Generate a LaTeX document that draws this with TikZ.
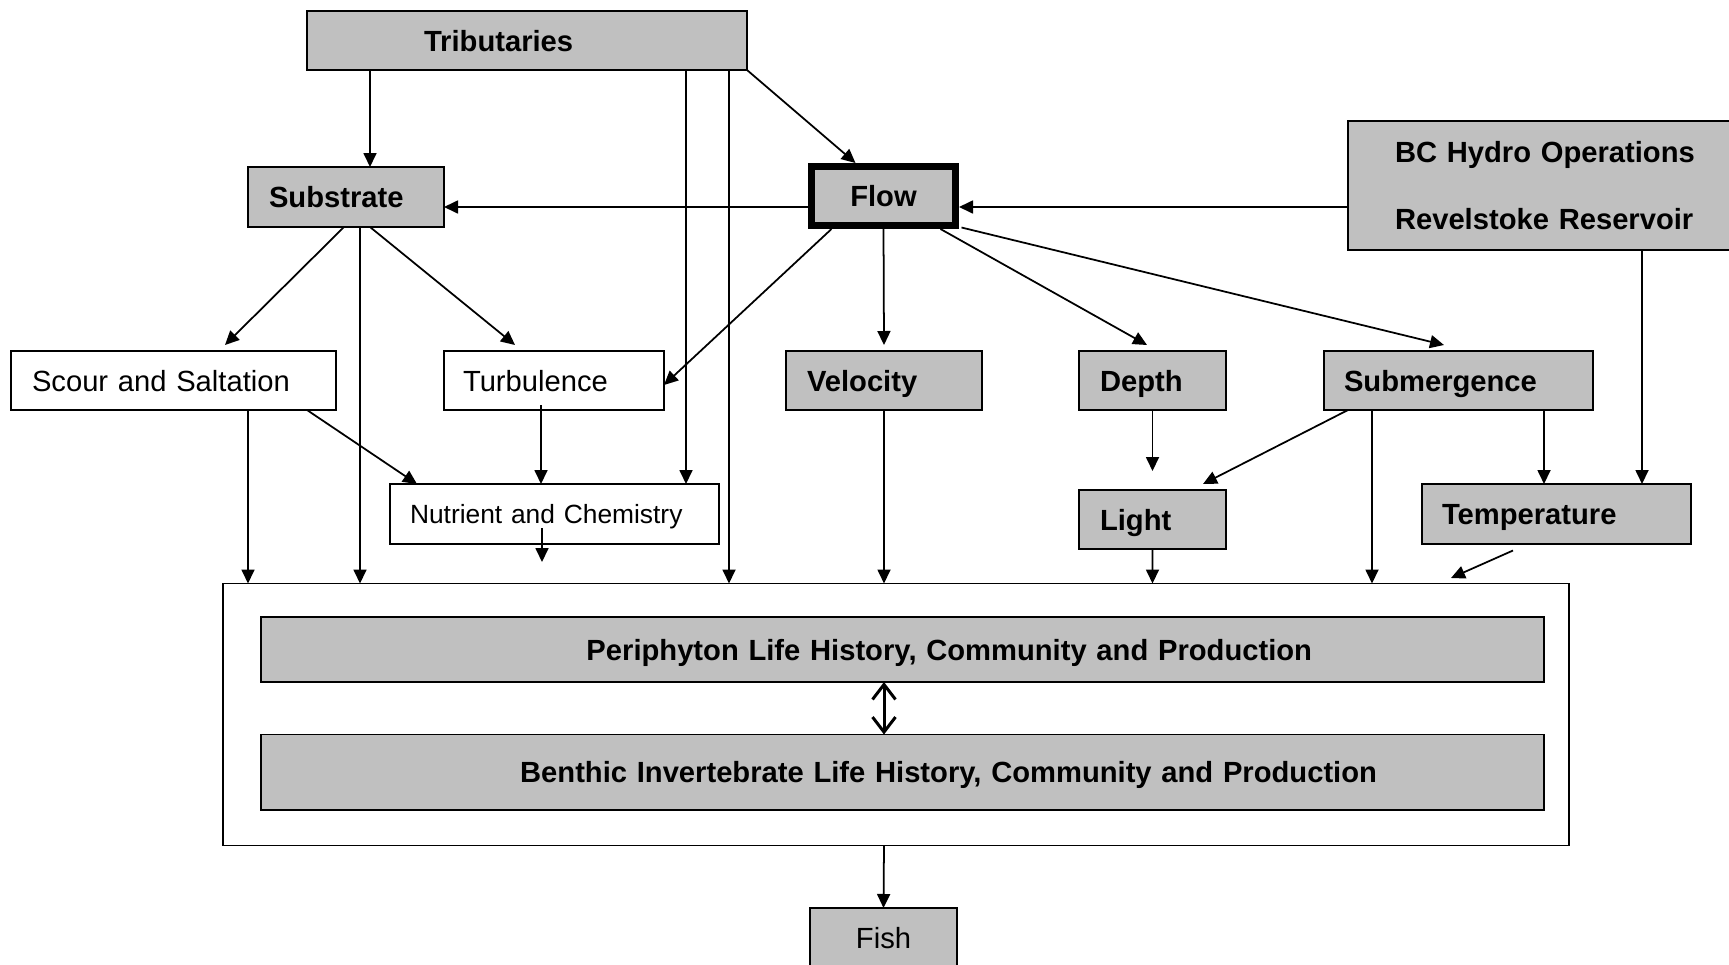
\documentclass[tikz,border=0pt]{standalone}
\usepackage{fontspec}
\setmainfont{Liberation Sans}
\usetikzlibrary{arrows.meta,calc}
\definecolor{boxgray}{RGB}{192,192,192}

\begin{document}
\begin{tikzpicture}[yscale=-1,
    frame/.style={draw, line width=1.1pt, outer sep=0pt, anchor=north west, align=left, inner ysep=0pt,
        font=\fontsize{16.6}{20}\selectfont},
    box/.style={frame, text height=12pt, text depth=0pt},
    gbox/.style={box, fill=boxgray, font=\fontsize{16.6}{20}\selectfont\bfseries},
    arr/.style={line width=1pt, -{Triangle[length=0.28cm,width=0.26cm]}},
    both/.style={line width=1.7pt, {Straight Barb[length=0.3cm,width=0.46cm]}-{Straight Barb[length=0.3cm,width=0.46cm]}}]
    \useasboundingbox (0,0) rectangle (34.58,19.28);

    % sources
    \node [gbox, minimum width=8.80cm, minimum height=1.18cm, inner xsep=2.34cm, text width=4.12cm] (trib) at (6.14,0.22) {Tributaries};
    \node [gbox, minimum width=3.92cm, minimum height=1.20cm, inner xsep=0.42cm, text width=3.08cm] (sub) at (4.96,3.34) {Substrate};
    \node [gbox, line width=4pt, minimum width=2.88cm, minimum height=1.18cm, inner xsep=0.20cm, text width=2.48cm, align=center] (flow) at (16.23,3.33) {Flow};
    \node [frame, fill=boxgray, font=\fontsize{16.6}{20}\selectfont\bfseries, minimum width=8.04cm, minimum height=2.58cm, inner xsep=0.94cm, text width=6.16cm] (bc) at (26.96,2.42) {BC Hydro Operations\\[18.5pt]Revelstoke Reservoir\\[-0.05cm]};

    % physical factors
    \node [box, minimum width=6.50cm, minimum height=1.18cm, inner xsep=0.42cm, text width=5.66cm] (scour) at (0.22,7.02) {Scour and Saltation};
    \node [box, minimum width=4.40cm, minimum height=1.18cm, inner xsep=0.38cm, text width=3.64cm] (turb) at (8.88,7.02) {Turbulence};
    \node [gbox, minimum width=3.92cm, minimum height=1.18cm, inner xsep=0.42cm, text width=3.08cm] (vel) at (15.72,7.02) {Velocity};
    \node [gbox, minimum width=2.94cm, minimum height=1.18cm, inner xsep=0.42cm, text width=2.10cm] (depth) at (21.58,7.02) {Depth};
    \node [gbox, minimum width=5.38cm, minimum height=1.18cm, inner xsep=0.40cm, text width=4.58cm] (subm) at (26.48,7.02) {Submergence};
    \node [box, font=\fontsize{15}{18}\selectfont, text height=11pt, minimum width=6.58cm, minimum height=1.20cm, inner xsep=0.40cm, text width=5.78cm] (nut) at (7.80,9.68) {Nutrient and Chemistry};
    \node [gbox, minimum width=2.94cm, minimum height=1.18cm, inner xsep=0.42cm, text width=2.10cm] (light) at (21.58,9.80) {Light};
    \node [gbox, minimum width=5.38cm, minimum height=1.20cm, inner xsep=0.40cm, text width=4.58cm] (temp) at (28.44,9.68) {Temperature};

    % biota
    \node [frame, minimum width=26.92cm, minimum height=5.24cm] (env) at (4.46,11.67) {};
    \node [gbox, minimum width=25.66cm, minimum height=1.30cm, inner xsep=4.64cm, text width=16.38cm, align=right] (peri) at (5.22,12.34) {Periphyton Life History, Community and Production};
    \node [gbox, minimum width=25.66cm, minimum height=1.51cm, inner xsep=3.34cm, text width=18.98cm, align=right] (ben) at (5.22,14.69) {Benthic Invertebrate Life History, Community and Production};
    \node [box, fill=boxgray, minimum width=2.94cm, minimum height=1.20cm, inner xsep=0.20cm, text width=2.54cm, align=center] (fish) at (16.20,18.16) {Fish};

    % tributaries
    \draw [arr] ($(trib.south west)+(1.26,0)$) -- ($(sub.north west)+(2.44,0)$);
    \draw [arr] (trib.south east) -- ($(flow.north west)+(0.88,-0.07)$);
    \draw [arr] ($(trib.south west)+(7.58,0)$) -- ($(nut.north west)+(5.92,0)$);
    \draw [arr] ($(trib.south west)+(8.44,0)$) -- ($(env.north west)+(10.12,0)$);

    % flow
    \draw [arr] ($(flow.west)+(0,0.22)$) -- ($(sub.east)+(0,0.20)$);
    \draw [arr] ($(bc.west)+(0,0.43)$) -- ($(flow.east)+(0.07,0.22)$);
    \draw [arr] ($(flow.south west)+(0.40,0.07)$) -- ($(turb.east)+(0,0.09)$);
    \draw [arr] ($(flow.south)+(0,0.07)$) -- ($(vel.north)+(0,-0.12)$);
    \draw [arr] ($(flow.south east)+(-0.30,0.07)$) -- ($(depth.north west)+(1.36,-0.12)$);
    \draw [arr] ($(flow.south east)+(0.12,0.04)$) -- ($(subm.north west)+(2.40,-0.12)$);

    % substrate
    \draw [arr] ($(sub.south west)+(1.92,0)$) -- ($(scour.north west)+(4.28,-0.12)$);
    \draw [arr] ($(sub.south west)+(2.44,0)$) -- ($(turb.north west)+(1.42,-0.12)$);
    \draw [arr] ($(sub.south west)+(2.24,0)$) -- ($(env.north west)+(2.74,0)$);

    % down to the biota
    \draw [arr] ($(scour.south west)+(4.74,0)$) -- ($(env.north west)+(0.50,0)$);
    \draw [arr] ($(scour.south west)+(5.92,0)$) -- ($(nut.north west)+(0.54,0)$);
    \draw [arr] ($(turb.south west)+(1.94,-0.10)$) -- ($(nut.north west)+(3.02,0)$);
    \draw [arr] ($(nut.south west)+(3.04,-0.32)$) -- ($(env.north west)+(6.38,-0.43)$);
    \draw [arr] (vel.south) -- ($(env.north west)+(13.22,0)$);
    \draw [arr] (depth.south) -- ($(light.north)+(0,-0.38)$);
    \draw [arr] ($(subm.south west)+(0.48,0)$) -- ($(light.north west)+(2.48,-0.12)$);
    \draw [arr] ($(subm.south west)+(0.96,0)$) -- ($(env.north west)+(22.98,0)$);
    \draw [arr] ($(subm.south west)+(4.40,0)$) -- ($(temp.north west)+(2.44,0)$);
    \draw [arr] ($(bc.south west)+(5.88,0)$) -- ($(temp.north west)+(4.40,0)$);
    \draw [arr] (light.south) -- ($(env.north west)+(18.59,0)$);
    \draw [arr] ($(temp.south west)+(1.82,0.13)$) -- ($(env.north east)+(-2.36,-0.11)$);

    \draw [both] ($(peri.south west)+(12.46,0)$) -- ($(ben.north west)+(12.46,0)$);
    \draw [arr] ($(env.south west)+(13.22,0)$) -- (fish.north);
\end{tikzpicture}
\end{document}
